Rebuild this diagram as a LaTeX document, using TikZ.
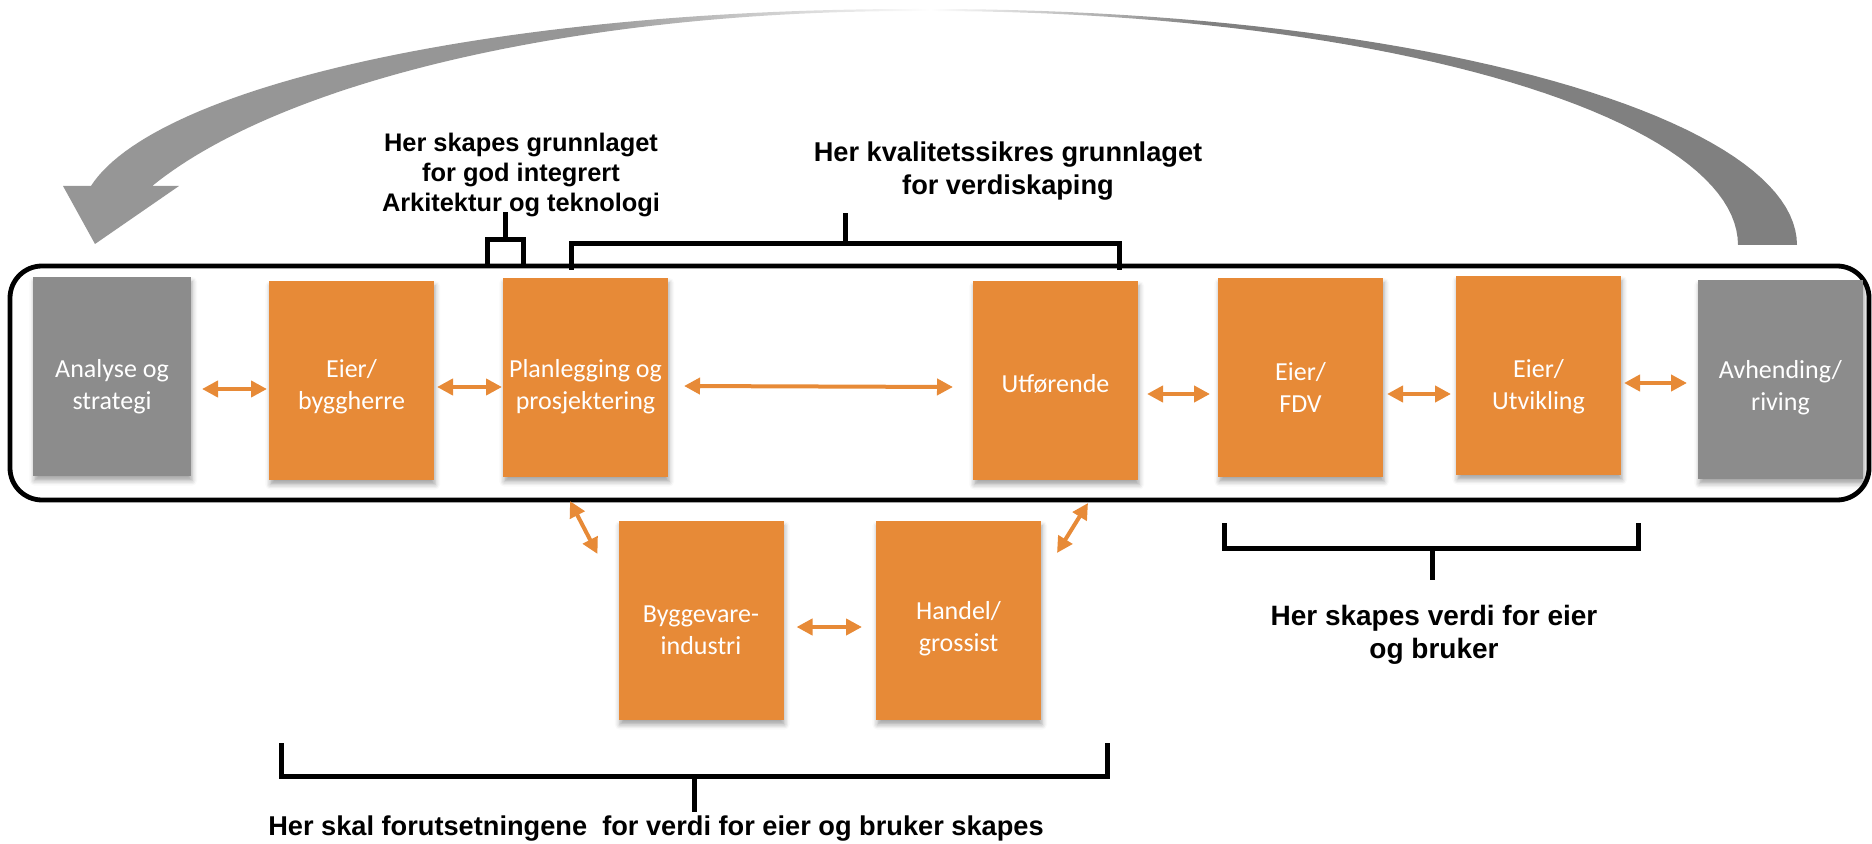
\documentclass[tikz,border=0pt]{standalone}
\usepackage{fontspec}
\setmainfont{Liberation Sans}
\newfontfamily\boxfont{Carlito}
\usetikzlibrary{arrows.meta,shadows.blur}

\definecolor{boxorange}{RGB}{231,138,55}
\definecolor{boxgray}{RGB}{140,140,140}
\definecolor{arcL}{RGB}{150,150,150}
\definecolor{arcR}{RGB}{128,128,128}

% grey band that fades to white at its top
\pgfdeclarehorizontalshading{arcfade}{100bp}{color(0bp)=(arcL); color(25bp)=(arcL); color(40bp)=(arcL); color(50bp)=(white); color(58bp)=(arcR); color(75bp)=(arcR); color(100bp)=(arcR)}

\begin{document}
\begin{tikzpicture}[x=0.5pt,y=-0.5pt,
  every node/.style={inner sep=0pt, outer sep=0pt},
  stage/.style={rectangle, minimum width=82.5pt, minimum height=99.5pt,
    blur shadow={shadow xshift=0.6pt, shadow yshift=-2.4pt, shadow blur radius=2.4pt, shadow opacity=35}},
  orangestage/.style={stage, fill=boxorange},
  graystage/.style={stage, fill=boxgray},
  stagetext/.style={text=white, font=\boxfont\fontsize{13}{16}\selectfont, align=center},
  note/.style={font=\bfseries\fontsize{13.6}{16.5}\selectfont, align=center},
  smallnote/.style={font=\bfseries\fontsize{12.7}{15}\selectfont, align=center},
  biarrow/.style={draw=boxorange, line width=2pt, {Triangle[length=8pt,width=8pt]}-{Triangle[length=8pt,width=8pt]}},
  bracket/.style={draw=black, line width=2.5pt}
]
\useasboundingbox (0,0) rectangle (1872,844);

% curved return arrow over the chain
\shade[shading=arcfade]
  plot[domain=0:-90, samples=50, variable=\t] ({930+867*cos(\t)}, {245+236*sin(\t)})
  -- plot[domain=-90:-170.7, samples=60, variable=\t] ({913+833*cos(\t)}, {220+211*sin(\t)})
  -- (63,186) -- (95,244) -- (179,186) -- (152,186)
  -- plot[domain=-156.8:-90, samples=60, variable=\t] ({913+828*cos(\t)}, {300+289*sin(\t)})
  -- plot[domain=-90:0, samples=50, variable=\t] ({930+808*cos(\t)}, {245+234*sin(\t)})
  -- cycle;

% frame round the main chain
\draw[line width=2.4pt, rounded corners=16pt] (10,266) rectangle (1869,500);

% brackets
\draw[bracket] (487,265) -- (487,240) -- (523,240) -- (523,265);
\draw[bracket] (505,240) -- (505,212);
\draw[bracket] (571,270) -- (571,244) -- (1119,244) -- (1119,270);
\draw[bracket] (845,244) -- (845,213);
\draw[bracket] (1224,523) -- (1224,548) -- (1638,548) -- (1638,523);
\draw[bracket] (1432,548) -- (1432,580);
\draw[bracket] (281,743) -- (281,776) -- (1107,776) -- (1107,743);
\draw[bracket] (694,776) -- (694,812);

% stages
\node[graystage, minimum width=79pt] (analyse) at (112,376.5) {};
\node[orangestage] (eier) at (351.5,380.5) {};
\node[orangestage] (plan) at (585.5,377.5) {};
\node[orangestage] (utf) at (1055.5,380.5) {};
\node[orangestage] (fdv) at (1300.5,377.5) {};
\node[orangestage] (utv) at (1538.5,375.5) {};
\node[graystage] (avh) at (1780.5,379.5) {};
\node[orangestage] (bygg) at (701,620.5) {};
\node[orangestage] (handel) at (958.5,620.5) {};

\node[stagetext] (analyse-t) at (112,387) {Analyse og\\strategi};
\node[stagetext] (eier-t) at (351.5,387) {Eier/\\byggherre};
\node[stagetext] (plan-t) at (585.5,387) {Planlegging og\\prosjektering};
\node[stagetext] (utf-t) at (1055.5,384) {Utførende};
\node[stagetext] (fdv-t) at (1300.5,387) {Eier/\\FDV};
\node[stagetext] (utv-t) at (1538.5,387) {Eier/\\Utvikling};
\node[stagetext] (avh-t) at (1780.5,388) {Avhending/\\riving};
\node[stagetext] (bygg-t) at (701,630) {Byggevare-\\industri};
\node[stagetext] (handel-t) at (958.5,629) {Handel/\\grossist};

% links between stages
\draw[biarrow] ([shift={(11,12.5)}]analyse.east) -- ([shift={(-2,8.5)}]eier.west);
\draw[biarrow] ([shift={(3,6.5)}]eier.east) -- ([shift={(-1,9.5)}]plan.west);
\draw[biarrow] ([shift={(16,8.5)}]plan.east) -- ([shift={(-20,6.5)}]utf.west);
\draw[biarrow] ([shift={(9,13.5)}]utf.east) -- ([shift={(-8,16.5)}]fdv.west);
\draw[biarrow] ([shift={(4,16.5)}]fdv.east) -- ([shift={(-5,18.5)}]utv.west);
\draw[biarrow] ([shift={(3,7.5)}]utv.east) -- ([shift={(-11,3.5)}]avh.west);
\draw[biarrow] ([shift={(13,6.5)}]bygg.east) -- ([shift={(-14,6.5)}]handel.west);
\draw[biarrow] ([shift={(-15.5,24)}]plan.south) -- ([shift={(-21,33)}]bygg.north west);
\draw[biarrow] ([shift={(32.5,23)}]utf.south) -- ([shift={(16,32)}]handel.north east);

% notes
\node[smallnote] (arch-note) at (521,175) {Her skapes grunnlaget\\for god integrert\\Arkitektur og teknologi};
\node[note] (quality-note) at (1008,171) {Her kvalitetssikres grunnlaget\\for verdiskaping};
\node[note, font=\bfseries\fontsize{14}{16.5}\selectfont] (value-note) at (1434,635) {Her skapes verdi for eier\\og bruker};
\node[note] (premise-note) at (656,829) {Her skal forutsetningene~ for verdi for eier og bruker skapes};
\end{tikzpicture}
\end{document}
